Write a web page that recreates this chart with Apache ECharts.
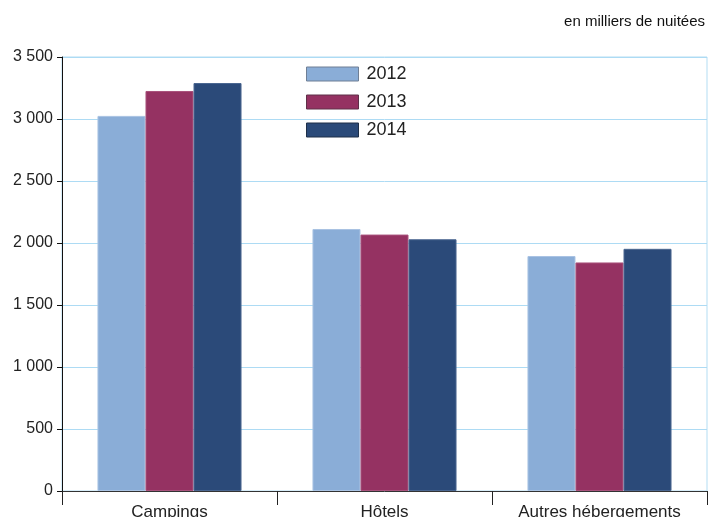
<!DOCTYPE html>
<html><head><meta charset="utf-8">
<script src="https://cdn.jsdelivr.net/npm/echarts@6/dist/echarts.min.js"></script>
<style>html,body{margin:0;padding:0;background:#fff}#c{width:710px;height:517px}</style>
</head><body><div id="c"></div>
<script>
const categories = ['Campings', 'Hôtels', 'Autres hébergements'];
const years = ['2012', '2013', '2014'];
const v2012 = [3025, 2113, 1895];
const v2013 = [3226, 2068, 1843];
const v2014 = [3290, 2030, 1953];
const colors = ['#8aadd7', '#953262', '#2b4a79'];
const borders = ['#a9c3e3', '#a9527c', '#4a6690'];
const legendBorders = ['#6f7f95', '#5e3048', '#1e2f48'];
const seriesValues = [v2012, v2013, v2014];

const chart = echarts.init(document.getElementById('c'));
chart.setOption({
  animation: false,
  textStyle: {fontFamily: 'Liberation Sans, Arial, sans-serif'},
  title: {
    text: 'en milliers de nuitées', right: 0, top: 9,
    textStyle: {fontSize: 15, fontWeight: 'normal', color: '#111'}
  },
  legend: {
    orient: 'vertical', left: 301, top: 60,
    itemWidth: 52, itemHeight: 14, itemGap: 10,
    icon: 'rect',
    textStyle: {fontSize: 18, color: '#222', padding: [0, 0, 0, 3]},
    data: years.map((y, i) => ({name: y, itemStyle: {borderColor: legendBorders[i], borderWidth: 1}}))
  },
  grid: {left: 62, right: 3, top: 57, bottom: 26, containLabel: false, outerBoundsMode: 'none',
    show: true, borderColor: '#b3ddf3', borderWidth: 1},
  xAxis: {
    type: 'category', data: categories,
    axisLine: {lineStyle: {color: '#333', width: 1}},
    axisTick: {show: true, alignWithLabel: false, length: 14, lineStyle: {color: '#222'}},
    axisLabel: {fontSize: 17, color: '#222', margin: 13}
  },
  yAxis: {
    type: 'value', min: 0, max: 3500, interval: 500,
    axisLine: {show: true, lineStyle: {color: '#111'}},
    axisTick: {show: true, length: 5, lineStyle: {color: '#111'}},
    splitLine: {lineStyle: {color: '#addbf4', width: 1}},
    axisLabel: {fontSize: 16, color: '#222', margin: 9,
      formatter: v => String(v).replace(/\B(?=(\d{3})+(?!\d))/g, ' ')}
  },
  series: years.map((y, i) => ({
    name: y, type: 'bar', data: seriesValues[i],
    barGap: '0%', barCategoryGap: '33%',
    itemStyle: {color: colors[i], borderColor: borders[i], borderWidth: 1}
  }))
});
</script></body></html>
